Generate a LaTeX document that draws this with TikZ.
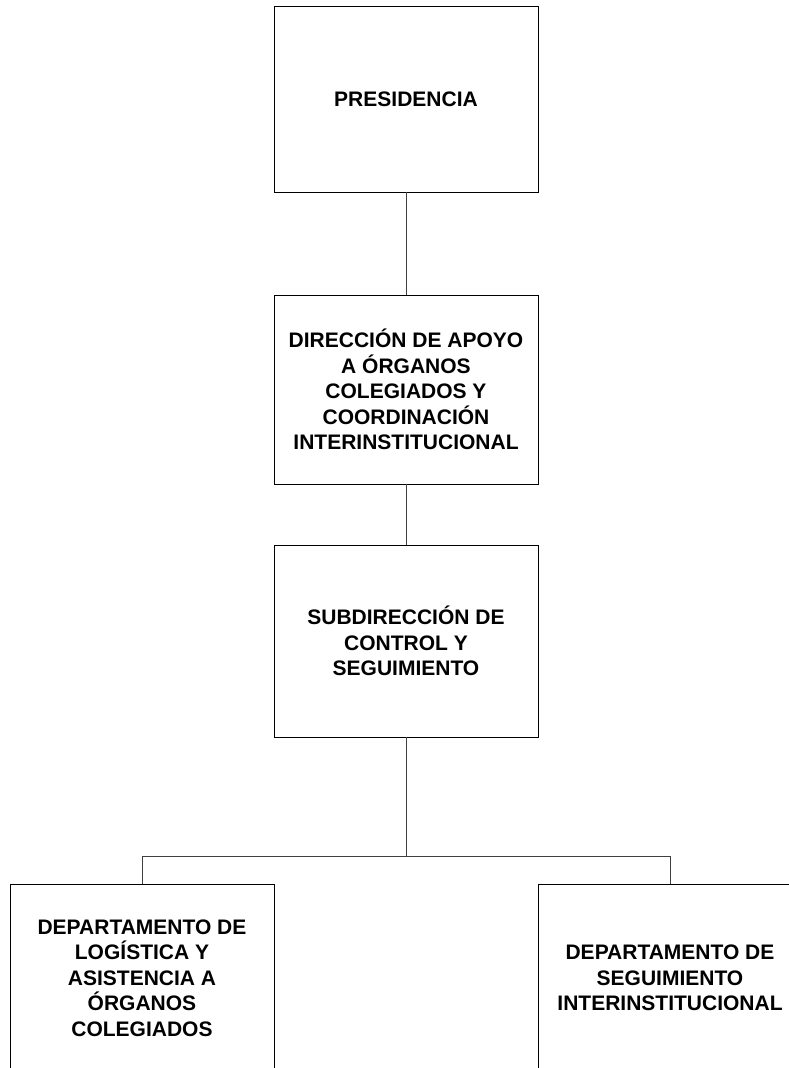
\documentclass[tikz,border=0pt]{standalone}
\usepackage{fontspec}
\setmainfont{Liberation Sans}
\begin{document}
\begin{tikzpicture}[x=1pt,y=1pt,
  orgbox/.style={draw=black, line width=0.8pt, fill=white, minimum width=264pt, inner sep=0pt,
    align=center, font=\fontsize{21}{25.5}\selectfont\bfseries},
  conn/.style={draw=black!75, line width=1pt}]
\useasboundingbox (0,0) rectangle (789,-1068);
\clip (0,0) rectangle (789,-1068);
\fill[white] (0,0) rectangle (789,-1068);
\node[orgbox, minimum height=186pt] (pres) at (406,-99) {PRESIDENCIA};
\node[orgbox, minimum height=189pt] (dir) at (406,-389.5) {DIRECCIÓN DE APOYO\\A ÓRGANOS\\COLEGIADOS Y\\COORDINACIÓN\\INTERINSTITUCIONAL};
\node[orgbox, minimum height=192pt] (sub) at (406,-641) {SUBDIRECCIÓN DE\\CONTROL Y\\SEGUIMIENTO};
\node[orgbox, minimum height=188pt] (log) at (142,-978) {DEPARTAMENTO DE\\LOGÍSTICA Y\\ASISTENCIA A\\ÓRGANOS\\COLEGIADOS};
\node[orgbox, minimum height=188pt] (seg) at (670,-978) {DEPARTAMENTO DE\\SEGUIMIENTO\\INTERINSTITUCIONAL};
\coordinate (bus) at (406,-856);
\draw[conn] (pres.south) -- (dir.north);
\draw[conn] (dir.south) -- (sub.north);
\draw[conn] (sub.south) -- (bus);
\draw[conn] (log.north) |- (bus) -| (seg.north);
\end{tikzpicture}
\end{document}
